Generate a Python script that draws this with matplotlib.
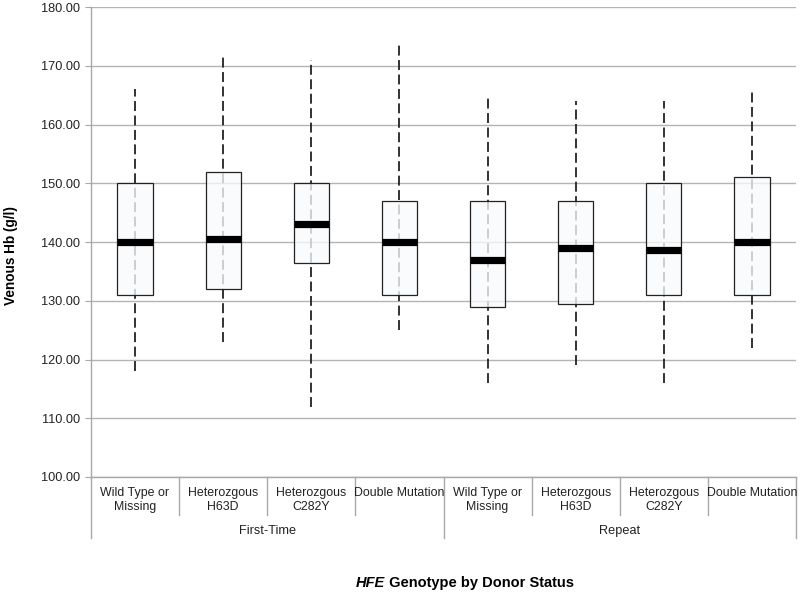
import numpy as np
import matplotlib
matplotlib.use('Agg')
from matplotlib import pyplot as plt
from matplotlib.patches import Rectangle

plt.rcParams['font.family'] = ['Liberation Sans', 'DejaVu Sans']

# Box statistics (g/l)
GENOTYPES = ["Wild Type or\nMissing", "Heterozgous\nH63D", "Heterozgous\nC282Y", "Double Mutation"]
GROUPS = ["First-Time", "Repeat"]
whisk_lo = [118.0, 123.0, 112.0, 125.0, 116.0, 119.0, 116.0, 122.0]
q1 = [131.0, 132.0, 136.5, 131.0, 129.0, 129.5, 131.0, 131.0]
median = [140.0, 140.5, 143.0, 140.0, 137.0, 139.0, 138.7, 140.0]
q3 = [150.0, 152.0, 150.0, 147.0, 147.0, 147.0, 150.0, 151.0]
whisk_hi = [166.0, 171.5, 171.0, 174.0, 165.0, 164.0, 164.0, 165.5]

GRID = '#b4b4b4'
FRAME = '#a8a8a8'


def plot_boxes():
    fig = plt.figure(figsize=(8, 5.94), dpi=100)
    ax = fig.add_axes([0.11375, 0.197, 0.88125, 0.791])
    n = len(q1)
    xs = np.arange(n)
    w = 0.4

    for i in xs:
        # dashed whisker through the whole range, box drawn on top
        ax.plot([i, i], [whisk_lo[i], whisk_hi[i]], color='#222222', lw=1.3,
                ls=(0, (5.5, 2.5)), zorder=2)
        ax.add_patch(Rectangle((i - w / 2, q1[i]), w, q3[i] - q1[i],
                               facecolor=(0.975, 0.98, 0.99, 0.78),
                               edgecolor='#222222', lw=0.9, zorder=3))
        ax.plot([i - w / 2, i + w / 2], [median[i], median[i]], color='black',
                lw=5.2, solid_capstyle='butt', zorder=4)

    ax.set_xlim(-0.5, n - 0.5)
    ax.set_ylim(100, 180)
    ax.set_yticks(np.arange(100, 181, 10))
    ax.set_yticklabels([f'{v:.2f}' for v in np.arange(100, 181, 10)], fontsize=9.2,
                       color='#222222')
    ax.tick_params(axis='y', length=4, color=FRAME, pad=4)
    ax.set_xticks([])
    ax.grid(axis='y', color=GRID, lw=1.0, zorder=0)
    ax.set_axisbelow(True)
    for s in ['top', 'right', 'bottom']:
        ax.spines[s].set_visible(False)
    ax.spines['left'].set_color(FRAME)
    ax.spines['left'].set_linewidth(1.0)

    # two-level category axis under the plot
    tr = ax.get_xaxis_transform()
    ax.plot([-0.5, n - 0.5], [0, 0], transform=tr, color=FRAME, lw=1.0, clip_on=False)
    for k in range(n + 1):
        edge = k - 0.5
        depth = -0.13 if k % 4 == 0 else -0.081
        ax.plot([edge, edge], [0, depth], transform=tr, color=FRAME, lw=1.0,
                clip_on=False)
    for i in xs:
        label = GENOTYPES[i % 4]
        y = -0.049 if '\n' in label else -0.034
        ax.text(i, y, label, transform=tr, ha='center', va='center',
                fontsize=8.9, color='#222222', linespacing=1.3)
    for g, name in enumerate(GROUPS):
        ax.text(g * 4 + 1.5, -0.115, name, transform=tr, ha='center', va='center',
                fontsize=9.2, color='#222222')

    fig.text(0.014, 0.569, 'Venous Hb (g/l)', rotation=90, ha='center', va='center',
             fontsize=9.8, fontweight='bold')
    fig.text(0.481, 0.019, 'HFE', ha='right', va='center', fontsize=10.5,
             fontweight='bold', fontstyle='italic')
    fig.text(0.481, 0.019, ' Genotype by Donor Status', ha='left', va='center',
             fontsize=10.5, fontweight='bold')

    fig.savefig('out.png', dpi=100)


if __name__ == "__main__":
    plot_boxes()
